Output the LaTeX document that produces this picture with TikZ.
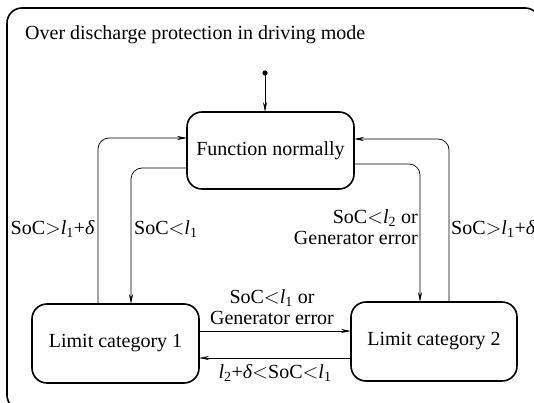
\documentclass[tikz,border=0pt]{standalone}
\usepackage{fontspec}
\setmainfont{Liberation Serif}
\usetikzlibrary{arrows.meta}
\newcommand\lsub[1]{\textit{l}\textsubscript{#1}}
\newcommand\dlt{\textit{δ}}
\begin{document}
\begin{tikzpicture}[x=1pt,y=-1pt,
  statebox/.style={draw,line width=1.6pt,rounded corners=15pt,inner sep=0pt,font=\fontsize{20}{22}\selectfont},
  conn/.style={line width=0.7pt,rounded corners=11pt},
  arr/.style={conn,-{Stealth[length=10pt,width=4pt]}},
  lbl/.style={font=\fontsize{20}{21}\selectfont,inner sep=0pt,align=center}]
\useasboundingbox (0,0) rectangle (534,403);
\clip (0,0) rectangle (534,403);
\draw[line width=1.6pt,rounded corners=15pt] (7,8) rectangle (540,410);
\node[anchor=west,inner sep=0pt,font=\fontsize{20}{22}\selectfont] (title) at (25,35) {Over discharge protection in driving mode};
\node[statebox,minimum width=167pt,minimum height=77pt] (fn) at (270.5,150.5) {Function normally};
\node[statebox,minimum width=167pt,minimum height=79pt] (l1) at (115.5,343.5) {Limit category 1};
\node[statebox,minimum width=166pt,minimum height=79pt] (l2) at (434,341.5) {Limit category 2};
\fill (265,73) circle (2.6pt) coordinate (start);
\draw[arr] (start) -- (265,112);
% left outer
\draw[arr] (98,304) -- (98,138) -- (187,138);
% left inner
\draw[arr] (187,168) -- (131,168) -- (131,304);
% right inner
\draw[arr] (354,164) -- (420,164) -- (420,302);
% right outer
\draw[arr] (449,302) -- (449,139) -- (354,139);
% horizontal
\draw[arr] (199,331) -- (351,331);
\draw[arr] (351,358) -- (199,358);
% labels
\node[lbl,anchor=east] (a) at (95,229) {SoC$>$\lsub{1}+\dlt};
\node[lbl,anchor=west] (b) at (134,229) {SoC$<$\lsub{1}};
\node[lbl,anchor=east,align=right] (c) at (418,227) {SoC$<$\lsub{2} or\\Generator error};
\node[lbl,anchor=west] (d) at (451,229) {SoC$>$\lsub{1}+\dlt};
\node[lbl] (e) at (272,307) {SoC$<$\lsub{1} or\\Generator error};
\node[lbl] (f) at (275,373) {\lsub{2}+\dlt$<$SoC$<$\lsub{1}};
\end{tikzpicture}
\end{document}
